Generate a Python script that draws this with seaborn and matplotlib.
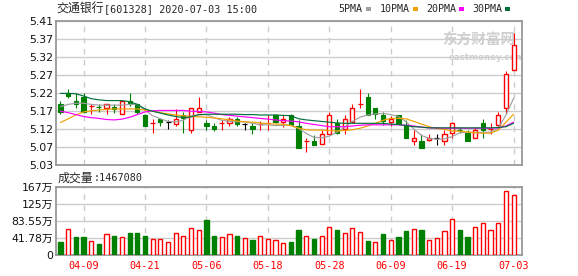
import numpy as np
import pandas as pd
import matplotlib
matplotlib.use("Agg")
import matplotlib.pyplot as plt
from matplotlib.patches import Rectangle
import seaborn as sns

# ---------------- data ----------------
dates = ["04-03", "04-07", "04-08", "04-09", "04-10", "04-13", "04-14", "04-15", "04-16", "04-17",
         "04-20", "04-21", "04-22", "04-23", "04-24", "04-27", "04-28", "04-29", "04-30", "05-06",
         "05-07", "05-08", "05-11", "05-12", "05-13", "05-14", "05-15", "05-18", "05-19", "05-20",
         "05-21", "05-22", "05-25", "05-26", "05-27", "05-28", "05-29", "06-01", "06-02", "06-03",
         "06-04", "06-05", "06-08", "06-09", "06-10", "06-11", "06-12", "06-15", "06-16", "06-17",
         "06-18", "06-19", "06-22", "06-23", "06-24", "06-29", "06-30", "07-01", "07-02", "07-03"]

open_ = [5.190, 5.220, 5.200, 5.209, 5.186, 5.183, 5.180, 5.183, 5.164, 5.200,
         5.190, 5.162, 5.141, 5.151, 5.143, 5.137, 5.162, 5.122, 5.171, 5.142,
         5.133, 5.142, 5.142, 5.151, 5.137, 5.133, 5.139, 5.141, 5.162, 5.143,
         5.162, 5.132, 5.093, 5.093, 5.085, 5.113, 5.140, 5.125, 5.143, 5.190,
         5.209, 5.180, 5.162, 5.143, 5.162, 5.136, 5.093, 5.093, 5.095, 5.100,
         5.093, 5.114, 5.122, 5.114, 5.102, 5.140, 5.125, 5.136, 5.181, 5.281]
high = [5.199, 5.230, 5.219, 5.220, 5.190, 5.190, 5.190, 5.190, 5.200, 5.220,
        5.192, 5.165, 5.151, 5.155, 5.148, 5.178, 5.169, 5.180, 5.209, 5.149,
        5.140, 5.149, 5.156, 5.156, 5.142, 5.142, 5.145, 5.162, 5.164, 5.162,
        5.164, 5.149, 5.102, 5.109, 5.122, 5.169, 5.151, 5.162, 5.190, 5.230,
        5.220, 5.180, 5.169, 5.160, 5.162, 5.148, 5.122, 5.111, 5.111, 5.111,
        5.122, 5.143, 5.131, 5.122, 5.131, 5.151, 5.140, 5.169, 5.278, 5.378]
low = [5.164, 5.206, 5.181, 5.168, 5.164, 5.169, 5.164, 5.167, 5.164, 5.187,
       5.164, 5.134, 5.114, 5.134, 5.125, 5.134, 5.114, 5.114, 5.171, 5.122,
       5.120, 5.122, 5.133, 5.134, 5.122, 5.112, 5.122, 5.122, 5.142, 5.131,
       5.136, 5.074, 5.063, 5.083, 5.085, 5.113, 5.113, 5.113, 5.140, 5.181,
       5.162, 5.151, 5.135, 5.134, 5.137, 5.102, 5.083, 5.074, 5.093, 5.083,
       5.083, 5.102, 5.114, 5.093, 5.100, 5.102, 5.111, 5.131, 5.164, 5.281]
close = [5.171, 5.211, 5.191, 5.171, 5.186, 5.183, 5.190, 5.179, 5.200, 5.192,
         5.171, 5.134, 5.141, 5.143, 5.143, 5.151, 5.153, 5.180, 5.180, 5.134,
         5.124, 5.142, 5.151, 5.137, 5.137, 5.124, 5.139, 5.141, 5.143, 5.151,
         5.136, 5.074, 5.093, 5.083, 5.111, 5.162, 5.114, 5.151, 5.180, 5.190,
         5.162, 5.164, 5.145, 5.151, 5.137, 5.102, 5.100, 5.074, 5.100, 5.100,
         5.111, 5.140, 5.122, 5.093, 5.122, 5.122, 5.125, 5.162, 5.269, 5.347]

volume_wan = [32.7, 63.9, 44.2, 44.2, 34.4, 27.8, 51.6, 47.5, 44.2, 54.1,
              54.1, 47.5, 39.3, 39.3, 31.1, 54.1, 46.7, 65.5, 59.8, 86.0,
              46.7, 43.4, 51.6, 46.7, 40.9, 36.9, 46.7, 38.5, 36.0, 28.7,
              31.9, 61.4, 46.7, 39.3, 46.7, 67.9, 61.4, 54.1, 65.5, 55.7,
              34.4, 31.9, 52.4, 36.9, 44.2, 59.0, 63.9, 61.4, 36.9, 40.9,
              58.2, 87.7, 61.4, 44.2, 68.8, 78.6, 61.4, 78.6, 156.0, 146.708]
volume_up = [0, 1, 0, 0, 1, 0, 1, 0, 1, 0,
             0, 0, 1, 1, 1, 1, 1, 1, 1, 0,
             0, 1, 1, 0, 1, 0, 1, 1, 1, 1,
             0, 0, 1, 0, 1, 1, 0, 1, 1, 1,
             0, 1, 0, 1, 0, 0, 1, 0, 1, 1,
             1, 1, 0, 0, 1, 1, 1, 1, 1, 1]

ma5 = [5.184, 5.190, 5.193, 5.193, 5.190, 5.188, 5.188, 5.188, 5.188, 5.190,
       5.190, 5.175, 5.160, 5.152, 5.145, 5.144, 5.148, 5.160, 5.162, 5.163,
       5.155, 5.148, 5.145, 5.144, 5.144, 5.140, 5.136, 5.136, 5.134, 5.135,
       5.135, 5.127, 5.113, 5.103, 5.102, 5.106, 5.117, 5.130, 5.145, 5.156,
       5.162, 5.165, 5.166, 5.163, 5.158, 5.144, 5.125, 5.108, 5.100, 5.098,
       5.099, 5.105, 5.115, 5.117, 5.116, 5.116, 5.117, 5.127, 5.162, 5.206]
ma10 = [5.142, 5.152, 5.162, 5.170, 5.173, 5.175, 5.177, 5.178, 5.178, 5.178,
        5.178, 5.175, 5.172, 5.168, 5.165, 5.162, 5.160, 5.158, 5.157, 5.156,
        5.154, 5.152, 5.149, 5.146, 5.144, 5.143, 5.141, 5.139, 5.138, 5.137,
        5.134, 5.127, 5.123, 5.122, 5.122, 5.121, 5.120, 5.121, 5.123, 5.127,
        5.133, 5.140, 5.148, 5.153, 5.153, 5.152, 5.145, 5.138, 5.131, 5.126,
        5.124, 5.120, 5.119, 5.117, 5.115, 5.114, 5.114, 5.122, 5.143, 5.164]
ma20 = [5.172, 5.168, 5.163, 5.158, 5.155, 5.153, 5.150, 5.149, 5.151, 5.156,
        5.163, 5.170, 5.173, 5.174, 5.174, 5.174, 5.174, 5.172, 5.171, 5.170,
        5.167, 5.163, 5.161, 5.159, 5.157, 5.155, 5.153, 5.151, 5.149, 5.147,
        5.146, 5.144, 5.140, 5.137, 5.134, 5.131, 5.131, 5.131, 5.133, 5.135,
        5.136, 5.136, 5.136, 5.136, 5.136, 5.135, 5.133, 5.130, 5.128, 5.128,
        5.127, 5.127, 5.127, 5.127, 5.127, 5.127, 5.127, 5.128, 5.133, 5.143]
ma30 = [5.219, 5.219, 5.218, 5.212, 5.205, 5.202, 5.200, 5.200, 5.200, 5.197,
        5.190, 5.178, 5.172, 5.167, 5.162, 5.158, 5.155, 5.157, 5.163, 5.164,
        5.164, 5.164, 5.164, 5.164, 5.163, 5.163, 5.162, 5.162, 5.162, 5.161,
        5.160, 5.152, 5.149, 5.147, 5.145, 5.143, 5.141, 5.140, 5.140, 5.140,
        5.140, 5.140, 5.140, 5.138, 5.137, 5.134, 5.131, 5.130, 5.128, 5.128,
        5.128, 5.128, 5.128, 5.128, 5.128, 5.128, 5.128, 5.129, 5.131, 5.140]

ma_names = ["5PMA", "10PMA", "20PMA", "30PMA"]
price_tick_labels = ["5.03", "5.07", "5.12", "5.17", "5.22", "5.27", "5.32", "5.37", "5.41"]
price_min, price_max = 5.03, 5.41
vol_tick_values = [0, 41.78, 83.55, 125.33, 167.11]
vol_tick_labels = ["0", "41.78万", "83.55万", "125万", "167万"]
label_dates = ["04-09", "04-21", "05-06", "05-18", "05-28", "06-09", "06-19", "07-03"]
title_name = "交通银行"
title_rest = "[601328] 2020-07-03 15:00"
vol_title = "成交量"
vol_value = ":1467080"

# ---------------- style ----------------
sns.set_style("white")
plt.rcParams["font.family"] = ["DejaVu Sans", "Noto Sans CJK SC"]

RED = "#ff0000"
GREEN = "#008000"
BLACK = "#000000"
MA_COLORS = {"5PMA": "#a0a0a0", "10PMA": "#f0a000", "20PMA": "#ff00ff", "30PMA": "#00703c"}
GRID = "#cccccc"
SPINE = "#999999"

W, H = 578, 276
fig = plt.figure(figsize=(W / 100, H / 100), dpi=100)


def fx(px):
    return px / W


def fy(py):
    return 1 - py / H


L, R = 55.5, 522.3
ax1 = fig.add_axes([fx(L), fy(165), (R - L) / W, 144 / H])
ax2 = fig.add_axes([fx(L), fy(255), (R - L) / W, 68.5 / H])

n = len(dates)
x = np.arange(n)
bw = 0.55

# candles
for i in range(n):
    o, h, l, c = open_[i], high[i], low[i], close[i]
    prev = close[i - 1] if i > 0 else o
    if c > o:
        col = RED
    elif c < o:
        col = GREEN
    else:
        col = RED if c > prev else (GREEN if c < prev else BLACK)
    ax1.vlines(i, l, h, color=col, lw=0.8, zorder=3)
    if c > o:
        ax1.add_patch(Rectangle((i - bw / 2, o), bw, c - o, facecolor="white",
                                edgecolor=col, lw=1.0, zorder=4))
    elif c < o:
        ax1.add_patch(Rectangle((i - bw / 2, c), bw, o - c, facecolor=col,
                                edgecolor=col, lw=0.8, zorder=4))
    else:
        ax1.hlines(c, i - bw / 2 - 0.05, i + bw / 2 + 0.05, color=col, lw=0.9, zorder=4)

# moving averages via seaborn
ma_df = pd.DataFrame({
    "x": np.tile(x, 4),
    "v": np.concatenate([ma5, ma10, ma20, ma30]),
    "k": np.repeat(ma_names, n),
})
sns.lineplot(data=ma_df, x="x", y="v", hue="k", palette=MA_COLORS, hue_order=ma_names,
             lw=0.85, ax=ax1, legend=False, zorder=5)

# volume bars
for i in range(n):
    col = RED if volume_up[i] else GREEN
    face = "white" if volume_up[i] else GREEN
    ax2.bar(i, volume_wan[i], width=bw, facecolor=face, edgecolor=col, lw=1.0, zorder=3)

label_idx = [dates.index(d) for d in label_dates]

for ax in (ax1, ax2):
    ax.set_xlim(-0.65, 60.13)
    ax.set_xticks(label_idx)
    ax.set_axisbelow(True)
    ax.grid(axis="y", color=GRID, lw=1.0)
    ax.grid(axis="x", color=GRID, lw=1.0, ls=(0, (4, 4)))
    for sp in ax.spines.values():
        sp.set_color(SPINE)
        sp.set_linewidth(1.3)
    ax.set_xlabel("")
    ax.set_ylabel("")
    ax.tick_params(axis="both", length=0)

ax1.set_ylim(price_min, price_max)
ax1.set_yticks(np.linspace(price_min, price_max, len(price_tick_labels)))
ax1.set_yticklabels(price_tick_labels, fontsize=7.8, color="#111111")
ax1.tick_params(axis="y", pad=1.8)
ax1.set_xticklabels([])

ax2.set_ylim(0, vol_tick_values[-1])
ax2.set_yticks(vol_tick_values)
ax2.set_yticklabels(vol_tick_labels, fontsize=7.8, color="#111111")
ax2.tick_params(axis="y", pad=1.8)
ax2.set_xticklabels(label_dates, color=RED, fontsize=7.3, family="DejaVu Sans Mono")
ax2.tick_params(axis="x", pad=4.6)

# title and legend
cjk = ["Noto Sans CJK SC", "DejaVu Sans"]
mono = ["DejaVu Sans Mono", "Noto Sans CJK SC"]
fig.text(fx(56), fy(9), title_name, family=cjk, fontsize=8.6, va="center", ha="left")
fig.text(fx(104), fy(9), title_rest, family=mono, fontsize=7.3, va="center", ha="left")

fig.text(fx(58), fy(178), vol_title, family=cjk, fontsize=8.6, va="center", ha="left")
fig.text(fx(94), fy(178), vol_value, family=mono, fontsize=7.3, va="center", ha="left")

leg_text_x = [338, 380, 426, 472]
leg_box_x = [366, 413, 459, 505]
for name, tx, bx in zip(ma_names, leg_text_x, leg_box_x):
    fig.text(fx(tx), fy(8.5), name, family=mono, fontsize=7.2, va="center", ha="left")
    fig.patches.append(Rectangle((fx(bx), fy(10.5)), 5 / W, 4 / H, transform=fig.transFigure,
                                 facecolor=MA_COLORS[name], edgecolor="none"))

# watermark
ax1.text(0.985, 0.87, "东方财富网", transform=ax1.transAxes, family=cjk, fontsize=10.5,
         color="#cfcfcf", weight="bold", ha="right", va="center", zorder=1)
ax1.text(1.005, 0.745, "eastmoney.com", transform=ax1.transAxes, fontsize=6.2,
         color="#cfcfcf", weight="bold", ha="right", va="center", zorder=1, clip_on=True)

fig.savefig("out.png", dpi=100)
